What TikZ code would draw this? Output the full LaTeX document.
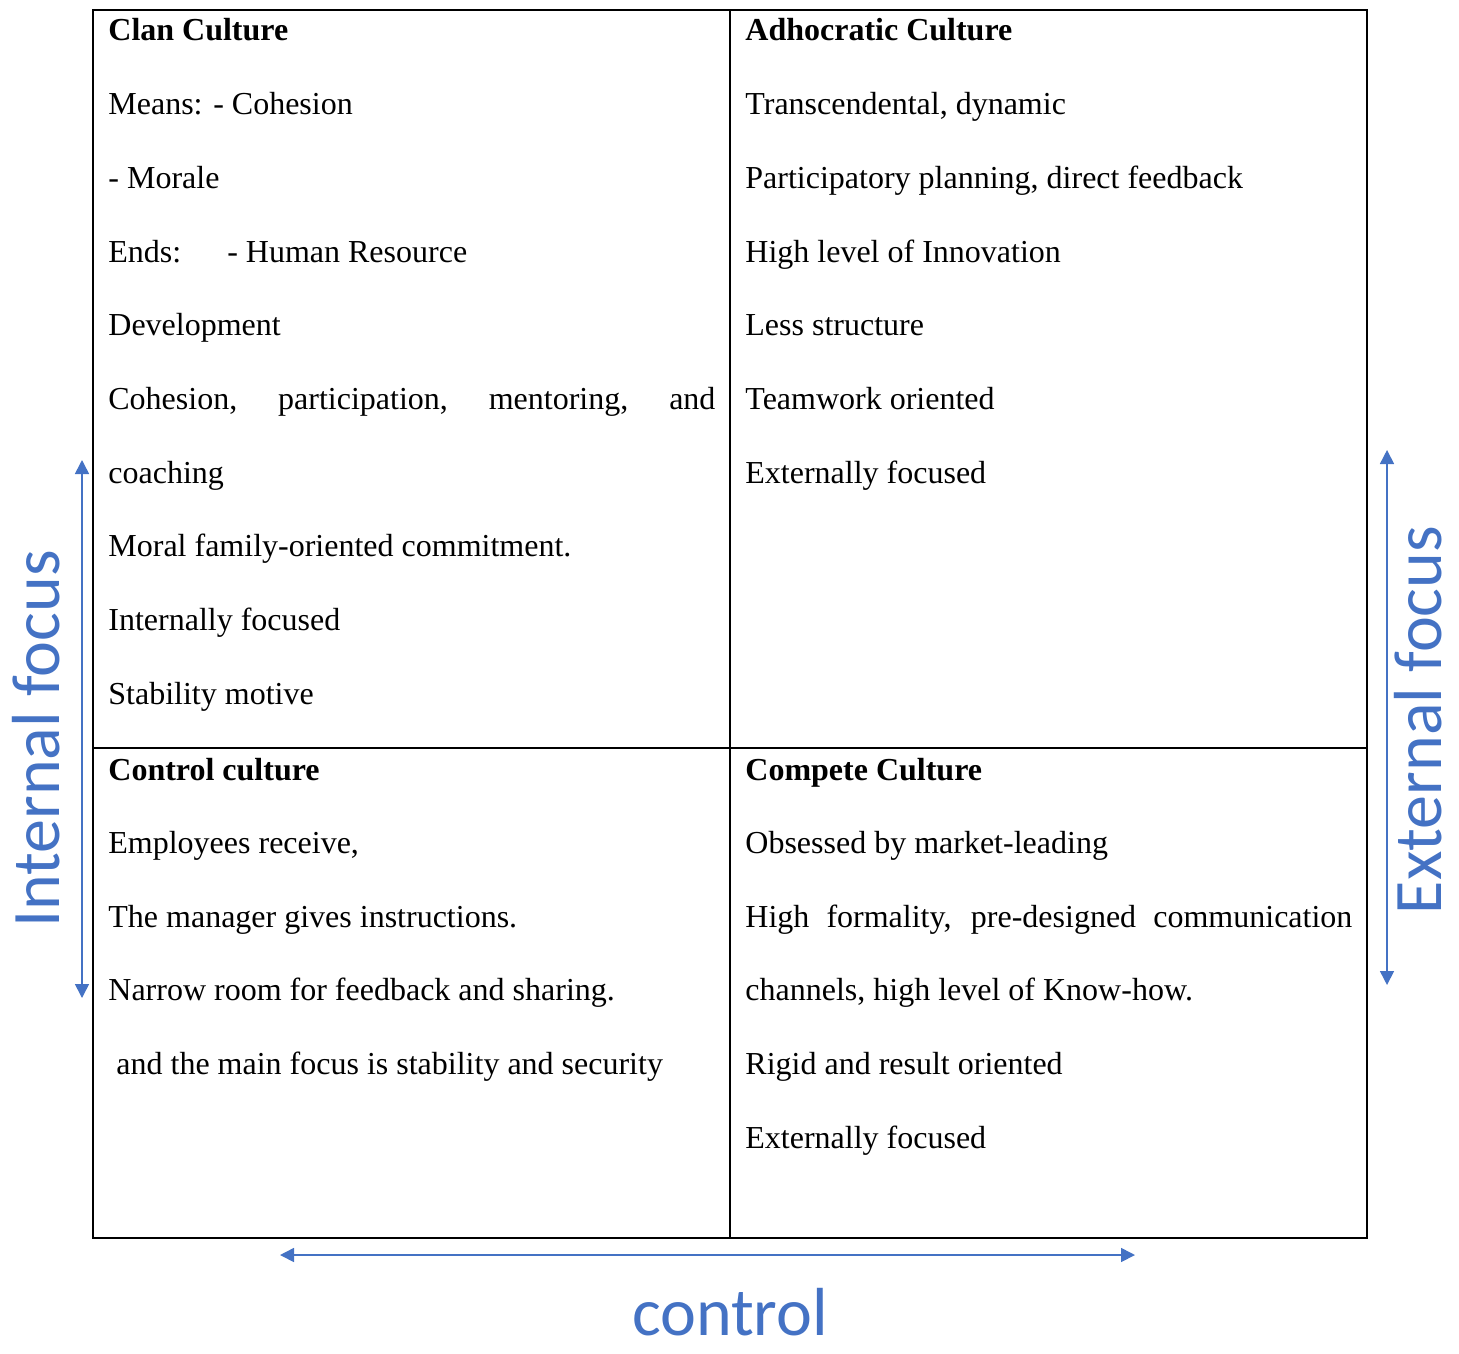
\documentclass[tikz,border=0pt]{standalone}
\usepackage{fontspec}
\setmainfont{Liberation Serif}
\newfontfamily\axisfont{Carlito}
\usetikzlibrary{arrows.meta}
\definecolor{axisblue}{HTML}{4472C4}

\begin{document}
\begin{tikzpicture}[x=0.5pt,y=-0.5pt,
  line/.style={anchor=base west,inner sep=0pt,font=\fontsize{16}{19}\selectfont},
  head/.style={line,font=\fontsize{16}{19}\selectfont\bfseries},
  axis/.style={axisblue,line width=0.8pt,{Triangle[width=7pt,length=7pt]}-{Triangle[width=7pt,length=7pt]}},
  axislabel/.style={text=axisblue,inner sep=0pt,font=\axisfont\fontsize{34}{40}\selectfont}]
\useasboundingbox (0,0) rectangle (1459,1353);

% the four cells
\draw[line width=1pt] (93,10) rectangle (1367,1238);
\draw[line width=1pt] (730,10) -- (730,1238);
\draw[line width=1pt] (93,748) -- (1367,748);

% clan culture
\node[head] (clan) at (108,41) {Clan Culture};
\foreach \t [count=\i] in {{Means: - Cohesion},{- Morale},{Ends:\hspace{23pt}- Human Resource},
  {Development},{\makebox[303.5pt][s]{Cohesion, participation, mentoring, and}},{coaching},
  {Moral family-oriented commitment.},{Internally focused},{Stability motive}}
  \node[line] (clan\i) at (108,{41+73.7*\i}) {\t};

% adhocratic culture
\node[head] (adhoc) at (745,41) {Adhocratic Culture};
\foreach \t [count=\i] in {{Transcendental, dynamic},{Participatory planning, direct feedback},
  {High level of Innovation},{Less structure},{Teamwork oriented},{Externally focused}}
  \node[line] (adhoc\i) at (745,{41+73.7*\i}) {\t};

% control culture
\node[head] (control) at (108,780) {Control culture};
\foreach \t [count=\i] in {{Employees receive,},{The manager gives instructions.},
  {Narrow room for feedback and sharing.}}
  \node[line] (control\i) at (108,{780+73.6*\i}) {\t};
\node[line] (control4) at (116,1074) {and the main focus is stability and security};

% compete culture
\node[head] (compete) at (745,780) {Compete Culture};
\foreach \t [count=\i] in {{Obsessed by market-leading},
  {\makebox[303.5pt][s]{High formality, pre-designed communication}},
  {channels, high level of Know-how.},{Rigid and result oriented},{Externally focused}}
  \node[line] (compete\i) at (745,{780+73.6*\i}) {\t};

% axes
\coordinate (inT) at (82,460);
\coordinate (inB) at (82,998);
\draw[axis] (inT) -- (inB);
\node[axislabel,rotate=90] (inlab) at (36,739) {Internal focus};

\coordinate (exT) at (1387,450);
\coordinate (exB) at (1387,985);
\draw[axis] (exT) -- (exB);
\node[axislabel,rotate=90] (exlab) at (1418,720) {External focus};

\coordinate (ctL) at (280,1255);
\coordinate (ctR) at (1135,1255);
\draw[axis] (ctL) -- (ctR);
\node[axislabel] (ctlab) at (730,1312) {control};
\end{tikzpicture}
\end{document}
